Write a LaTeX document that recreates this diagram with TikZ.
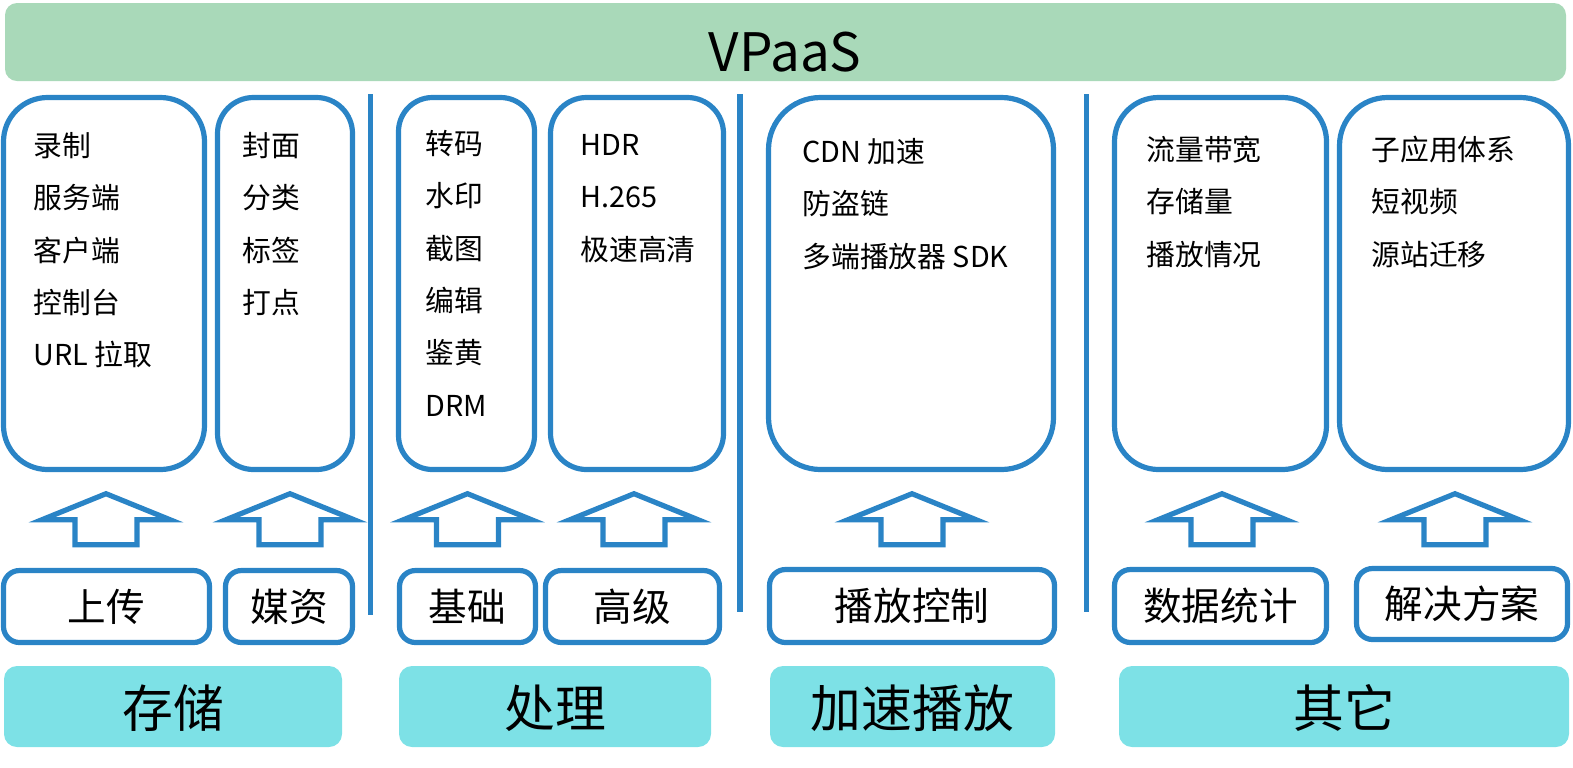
\documentclass[tikz,border=0pt]{standalone}
\usepackage{fontspec}
\setmainfont{Noto Sans CJK SC}
\usetikzlibrary{fit}
\definecolor{vgreen}{HTML}{A9D9B9}
\definecolor{vblue}{HTML}{2A84C6}
\definecolor{vcyan}{HTML}{7DE1E6}
\tikzset{
  outl/.style={draw=vblue, line width=2.6pt, inner sep=0pt, fill=white},
  topbox/.style={outl},
  midbox/.style={outl, rounded corners=8pt},
  catbox/.style={fill=vcyan, inner sep=0pt, rounded corners=6.5pt},
  listtext/.style={anchor=west, inner sep=0pt, yshift=-2.5pt, font=\fontsize{14.4}{17}\selectfont, text height=0.88em, text depth=0.12em},
  midlabel/.style={inner sep=0pt, yshift=-3.5pt, font=\fontsize{19.3}{23}\selectfont, text height=0.88em, text depth=0.12em},
  catlabel/.style={inner sep=0pt, yshift=-6.5pt, font=\fontsize{25.4}{30}\selectfont, text height=0.88em, text depth=0.12em},
  sepline/.style={draw=vblue, line width=2.6pt},
  arrowline/.style={draw=vblue, line width=2.6pt, line join=miter, fill=white},
  blockarrow/.pic={\path[arrowline] (0,0) -- (-64,26) -- (-31,26) -- (-31,51) -- (31,51) -- (31,26) -- (64,26) -- cycle;}
}
\newcommand\boxlist[4]{%
  \foreach \t [count=\i] in {#4} {\node[listtext] (#1-\i) at (#2, {#3+(\i-1)*52.3}) {\t};}}
\begin{document}
\begin{tikzpicture}[x=0.5pt,y=-0.5pt]
\useasboundingbox (0,0) rectangle (1573,767);
% top bar
\node[fill=vgreen, inner sep=0pt, rounded corners=6pt, fit={(5,3)(1566,81)}] (vbar) {};
\node[inner sep=0pt, font=\fontsize{26.5}{30}\selectfont] (vtext) at (785,52) {VPaaS};
% separators
\coordinate (s1a) at (370.5,94); \coordinate (s1b) at (370.5,615);
\coordinate (s2a) at (740,94);   \coordinate (s2b) at (740,612);
\coordinate (s3a) at (1086.5,94);\coordinate (s3b) at (1086.5,612);
\draw[sepline] (s1a) -- (s1b);
\draw[sepline] (s2a) -- (s2b);
\draw[sepline] (s3a) -- (s3b);
% top boxes
\node[topbox, rounded corners=22pt, fit={(3.5,97.5)(204.5,469.5)}] (t1) {};
\node[topbox, rounded corners=18pt, fit={(217.5,97.5)(352.5,469.5)}] (t2) {};
\node[topbox, rounded corners=17pt, fit={(398.5,97.5)(534.5,469.5)}] (t3) {};
\node[topbox, rounded corners=18pt, fit={(550.5,97.5)(723.5,469.5)}] (t4) {};
\node[topbox, rounded corners=26pt, fit={(768.5,97.5)(1053.5,469.5)}] (t5) {};
\node[topbox, rounded corners=22pt, fit={(1114.5,97.5)(1326.5,469.5)}] (t6) {};
\node[topbox, rounded corners=24pt, fit={(1339.5,97.5)(1568.5,469.5)}] (t7) {};
\boxlist{l1}{33}{144}{录制,服务端,客户端,控制台,URL 拉取}
\boxlist{l2}{242}{144}{封面,分类,标签,打点}
\boxlist{l3}{425}{142}{转码,水印,截图,编辑,鉴黄,DRM}
\boxlist{l4}{580}{143}{HDR,H.265,极速高清}
\boxlist{l5}{802}{150}{CDN 加速,防盗链,多端播放器 SDK}
\boxlist{l6}{1146}{148}{流量带宽,存储量,播放情况}
\boxlist{l7}{1371}{148}{子应用体系,短视频,源站迁移}
% arrows
\pic at (106,493.7) {blockarrow};
\pic at (290,493.7) {blockarrow};
\pic at (467.5,493.7) {blockarrow};
\pic at (634,493.7) {blockarrow};
\pic at (912,493.7) {blockarrow};
\pic at (1222,493.7) {blockarrow};
\pic at (1455,493.7) {blockarrow};
% middle boxes
\node[midbox, fit={(3.5,570.5)(209.5,642.5)}] (m1) {};
\node[midbox, fit={(225.5,570.5)(352.5,642.5)}] (m2) {};
\node[midbox, fit={(399.5,570.5)(535.5,642.5)}] (m3) {};
\node[midbox, fit={(545.5,570.5)(719.5,642.5)}] (m4) {};
\node[midbox, fit={(769.5,569.5)(1054.5,642.5)}] (m5) {};
\node[midbox, fit={(1114.5,569.5)(1326.5,642.5)}] (m6) {};
\node[midbox, fit={(1356.5,568.5)(1567.5,639.5)}] (m7) {};
\node[midlabel] (m1l) at (m1) {上传};
\node[midlabel] (m2l) at (m2) {媒资};
\node[midlabel] (m3l) at (m3) {基础};
\node[midlabel] (m4l) at (m4) {高级};
\node[midlabel] (m5l) at (m5) {播放控制};
\node[midlabel] (m6l) at (m6) {数据统计};
\node[midlabel] (m7l) at (m7) {解决方案};
% category boxes
\node[catbox, fit={(4,666)(342,747)}] (c1) {};
\node[catbox, fit={(399,666)(711,747)}] (c2) {};
\node[catbox, fit={(770,666)(1055,747)}] (c3) {};
\node[catbox, fit={(1119,666)(1569,747)}] (c4) {};
\node[catlabel] (c1l) at (c1) {存储};
\node[catlabel] (c2l) at (c2) {处理};
\node[catlabel] (c3l) at (c3) {加速播放};
\node[catlabel] (c4l) at (c4) {其它};
\end{tikzpicture}
\end{document}
